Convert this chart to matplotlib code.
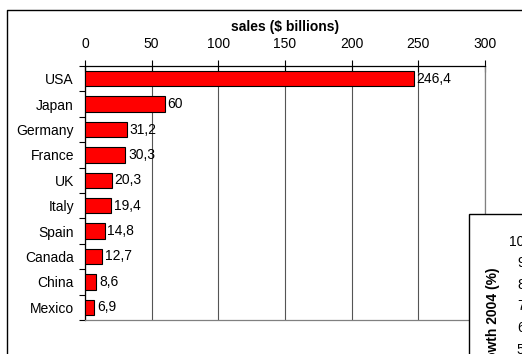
import matplotlib.pyplot as plt
from matplotlib.patches import Rectangle
from matplotlib.lines import Line2D

plt.rcParams["font.family"] = ["Liberation Sans", "DejaVu Sans"]

countries = ["USA", "Japan", "Germany", "France", "UK", "Italy", "Spain",
             "Canada", "China", "Mexico"]
sales = [246.4, 60, 31.2, 30.3, 20.3, 19.4, 14.8, 12.7, 8.6, 6.9]
sales_ticks = [0, 50, 100, 150, 200, 250, 300]
growth_ticks = [5, 6, 7, 8, 9, 10]

W, H = 522, 354
fig = plt.figure(figsize=(W / 100, H / 100), dpi=100)


def fx(px):
    return px / W


def fy(py):
    return 1 - py / H


# outer chart border (left and top only are inside the frame)
fig.add_artist(Line2D([fx(7), fx(7), 1.01], [-0.01, fy(10), fy(10)],
                      color="black", lw=1.0))

ax = fig.add_axes([fx(85), fy(320), fx(485) - fx(85), fy(66) - fy(320)])
ypos = list(range(len(countries)))
ax.barh(ypos, sales, height=0.6, color="#ff0000", edgecolor="black",
        linewidth=0.8, zorder=3)
for y, v in zip(ypos, sales):
    ax.text(v + 2, y, f"{v:g}".replace(".", ","), va="center",
            ha="left", fontsize=10, zorder=4)

ax.set_xlim(0, 300)
ax.set_ylim(len(countries) - 0.5, -0.5)
ax.xaxis.tick_top()
ax.xaxis.set_label_position("top")
ax.set_xticks(sales_ticks)
ax.tick_params(axis="x", direction="inout", length=8, width=0.8,
               labelsize=10, pad=7)
ax.set_xlabel("sales ($ billions)", fontsize=10, fontweight="bold",
              labelpad=4)
ax.set_yticks(ypos)
ax.set_yticklabels(countries)
ax.tick_params(axis="y", length=0, labelsize=10, pad=8)
ax.set_yticks([i - 0.5 for i in range(len(countries) + 1)], minor=True)
ax.tick_params(axis="y", which="minor", length=4, width=0.8,
               direction="out")
ax.grid(axis="x", color="#555555", lw=0.8, zorder=1)
for side in ("top", "left"):
    ax.spines[side].set_color("black")
    ax.spines[side].set_linewidth(0.9)
for side in ("right", "bottom"):
    ax.spines[side].set_color("#808080")
    ax.spines[side].set_linewidth(0.9)

# second chart overlapping the lower right corner
fig.add_artist(Rectangle((fx(469), -0.2), 0.5, fy(214) + 0.2,
                         transform=fig.transFigure, facecolor="white",
                         edgecolor="black", lw=1.0, zorder=5))
ax2 = fig.add_axes([fx(533), fy(456), 0.3, fy(240) - fy(456)], zorder=6)
ax2.set_ylim(0, 10)
ax2.set_yticks(growth_ticks)
ax2.tick_params(axis="y", length=0, labelsize=10, pad=6)
ax2.set_xticks([])
ax2.patch.set_visible(False)
for s in ax2.spines.values():
    s.set_visible(False)
fig.text(fx(493), fy(267), "growth 2004 (%)", rotation=90, ha="center",
         va="top", fontsize=10, fontweight="bold", zorder=7)

fig.savefig("out.png", dpi=100)
